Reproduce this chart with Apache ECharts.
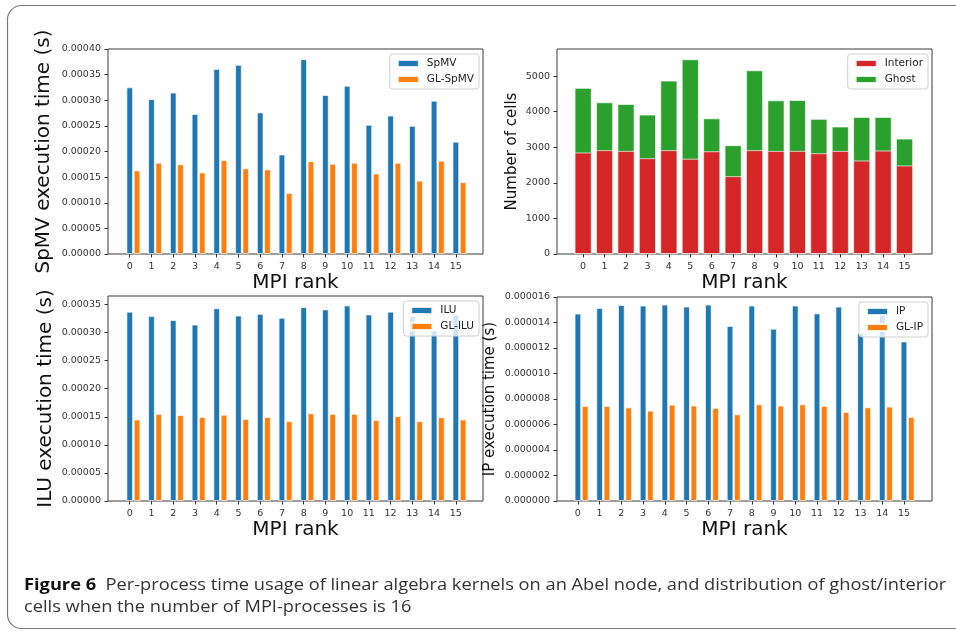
<!DOCTYPE html>
<html>
<head>
<meta charset="utf-8">
<script src="https://cdn.jsdelivr.net/npm/echarts@6/dist/echarts.min.js"></script>
<style>
  html, body { margin: 0; padding: 0; background: #fff; }
  #chart { width: 956px; height: 632px; }
</style>
</head>
<body>
<div id="chart"></div>
<script>
// MPI ranks
const ranks = [0, 1, 2, 3, 4, 5, 6, 7, 8, 9, 10, 11, 12, 13, 14, 15];

// top left: SpMV (s)
const spmv = [0.000325, 0.000302, 0.000315, 0.000273, 0.000361, 0.000369, 0.000276, 0.000194,
  0.000380, 0.000310, 0.000328, 0.000252, 0.000270, 0.000250, 0.000299, 0.000219];
const glSpmv = [0.000163, 0.000178, 0.000175, 0.000159, 0.000183, 0.000167, 0.000165, 0.000119,
  0.000181, 0.000176, 0.000178, 0.000157, 0.000178, 0.000143, 0.000182, 0.000140];
const spmvTicks = [0, 0.00005, 0.0001, 0.00015, 0.0002, 0.00025, 0.0003, 0.00035, 0.0004];

// top right: cells per rank
const interior = [2850, 2915, 2895, 2690, 2915, 2675, 2885, 2185, 2915, 2895, 2895, 2830, 2895, 2625, 2905, 2485];
const ghost = [1815, 1345, 1320, 1225, 1955, 2795, 925, 870, 2245, 1420, 1430, 965, 685, 1225, 945, 755];
const cellTicks = [0, 1000, 2000, 3000, 4000, 5000];

// bottom left: ILU (s)
const ilu = [0.000337, 0.000329, 0.000322, 0.000314, 0.000343, 0.000330, 0.000333, 0.000326,
  0.000345, 0.000341, 0.000348, 0.000332, 0.000337, 0.000329, 0.000304, 0.000332];
const glIlu = [0.000145, 0.000155, 0.000153, 0.0001495, 0.0001535, 0.000146, 0.0001495, 0.000142,
  0.000156, 0.000155, 0.000155, 0.000144, 0.000151, 0.000142, 0.000149, 0.000145];
const iluTicks = [0, 0.00005, 0.0001, 0.00015, 0.0002, 0.00025, 0.0003, 0.00035];

// bottom right: IP (s)
const ip = [0.00001469, 0.00001513, 0.00001537, 0.00001532, 0.0000154, 0.00001524, 0.0000154, 0.00001372,
  0.00001532, 0.00001351, 0.00001532, 0.00001471, 0.00001524, 0.00001317, 0.0000149, 0.00001251];
const glIp = [0.00000745, 0.00000745, 0.00000734, 0.00000708, 0.00000755, 0.00000748, 0.00000729, 0.00000679,
  0.00000758, 0.00000748, 0.00000758, 0.00000745, 0.00000698, 0.00000734, 0.0000074, 0.00000658];
const ipTicks = [0, 0.000002, 0.000004, 0.000006, 0.000008, 0.00001, 0.000012, 0.000014, 0.000016];

const BLUE = '#1f77b4';
const ORANGE = '#ff7f0e';
const RED = '#d62728';
const GREEN = '#2ca02c';
const FONT = 'DejaVu Sans';
const SHIFT = 0.168; // blue bar sits on the tick, orange next to it

const pairs = (vals, shift) => ranks.map((r, i) => [r + shift, vals[i]]);
// ghost is stacked on interior: draw the total in green, interior in red over it
const totals = interior.map((v, i) => v + ghost[i]);

const xAxisOf = (idx, min, max) => ({
  type: 'value', gridIndex: idx, min: min, max: max,
  name: 'MPI rank', nameLocation: 'middle', nameGap: 18,
  nameTextStyle: { fontFamily: FONT, fontSize: 20, color: '#111' },
  axisLine: { show: false, onZero: false },
  splitLine: { show: false },
  axisTick: { show: true, length: 3.5, customValues: ranks, lineStyle: { color: '#333' } },
  axisLabel: { customValues: ranks, margin: 8, fontFamily: FONT, fontSize: 9.5, color: '#333' },
});

const yAxisOf = (idx, max, ticks, name, nameSize, nameGap, digits) => ({
  type: 'value', gridIndex: idx, min: 0, max: max,
  name: name, nameLocation: 'middle', nameGap: nameGap,
  nameTextStyle: { fontFamily: FONT, fontSize: nameSize, color: '#111' },
  axisLine: { show: false, onZero: false },
  splitLine: { show: false },
  axisTick: { show: true, length: 3.5, customValues: ticks, lineStyle: { color: '#333' } },
  axisLabel: {
    customValues: ticks, margin: 7, fontFamily: FONT, fontSize: 9.5, color: '#333',
    formatter: v => v.toFixed(digits),
  },
});

const legendOf = (names, right, top) => ({
  data: names, right: right, top: top, orient: 'vertical',
  icon: 'rect', itemWidth: 21, itemHeight: 7, itemGap: 5,
  padding: [4, 5, 4, 7],
  backgroundColor: 'rgba(255,255,255,0.8)', borderColor: '#d0d0d0', borderWidth: 1, borderRadius: 3,
  selectedMode: false,
  textStyle: { fontFamily: FONT, fontSize: 10.5, color: '#222', padding: [0, 0, 0, 3] },
});

const barOf = (name, idx, data, color, width, gap) => ({
  type: 'bar', name: name, xAxisIndex: idx, yAxisIndex: idx, data: data,
  barWidth: width, barGap: gap,
  itemStyle: { color: color, borderColor: 'rgba(255,255,255,0.85)', borderWidth: 0.8 },
});

const gridStyle = { show: true, borderColor: '#3a3a3a', borderWidth: 1, backgroundColor: 'transparent' };

const chart = echarts.init(document.getElementById('chart'), null, { renderer: 'canvas' });
chart.setOption({
  animation: false,
  backgroundColor: '#fff',
  grid: [
    Object.assign({ left: 108, top: 49, width: 375, height: 205 }, gridStyle),
    Object.assign({ left: 557, top: 49, width: 375, height: 205 }, gridStyle),
    Object.assign({ left: 108, top: 296, width: 375, height: 205 }, gridStyle),
    Object.assign({ left: 557, top: 297, width: 375, height: 204 }, gridStyle),
  ],
  xAxis: [
    xAxisOf(0, -1.0, 16.25),
    xAxisOf(1, -1.22, 16.28),
    xAxisOf(2, -1.0, 16.25),
    xAxisOf(3, -0.96, 16.29),
  ],
  yAxis: [
    yAxisOf(0, 0.0004, spmvTicks, 'SpMV execution time (s)', 20, 54, 5),
    yAxisOf(1, 5760, cellTicks, 'Number of cells', 15, 37, 0),
    yAxisOf(2, 0.000365, iluTicks, 'ILU execution time (s)', 20, 52, 5),
    yAxisOf(3, 0.000016, ipTicks, 'IP execution time (s)', 15, 59, 6),
  ],
  legend: [
    legendOf(['SpMV', 'GL-SpMV'], 477, 54),
    legendOf(['Interior', 'Ghost'], 28, 54),
    legendOf(['ILU', 'GL-ILU'], 477, 301),
    legendOf(['IP', 'GL-IP'], 28, 302),
  ],
  series: [
    barOf('SpMV', 0, pairs(spmv, SHIFT), BLUE, 6.5, '12%'),
    barOf('GL-SpMV', 0, pairs(glSpmv, SHIFT), ORANGE, 6.5, '12%'),
    barOf('Ghost', 1, pairs(totals, 0), GREEN, 17, '-100%'),
    barOf('Interior', 1, pairs(interior, 0), RED, 17, '-100%'),
    barOf('ILU', 2, pairs(ilu, SHIFT), BLUE, 6.5, '12%'),
    barOf('GL-ILU', 2, pairs(glIlu, SHIFT), ORANGE, 6.5, '12%'),
    barOf('IP', 3, pairs(ip, SHIFT), BLUE, 6.5, '12%'),
    barOf('GL-IP', 3, pairs(glIp, SHIFT), ORANGE, 6.5, '12%'),
  ],
  graphic: [
    {
      type: 'rect', silent: true,
      shape: { x: 7.5, y: 5.5, width: 990, height: 623, r: 14 },
      style: { fill: 'none', stroke: '#7a7a7a', lineWidth: 1.2 },
    },
    {
      type: 'text', x: 24, y: 577, scaleX: 1.14, silent: true,
      style: {
        text: '{b|Figure 6}  Per-process time usage of linear algebra kernels on an Abel node, and distribution of ghost/interior',
        fontFamily: 'Open Sans', fontSize: 16, fill: '#333', verticalAlign: 'top',
        rich: { b: { fontFamily: 'Open Sans', fontSize: 16, fontWeight: 'bold', fill: '#111' } },
      },
    },
    {
      type: 'text', x: 24, y: 599, scaleX: 1.14, silent: true,
      style: {
        text: 'cells when the number of MPI-processes is 16',
        fontFamily: 'Open Sans', fontSize: 16, fill: '#333', verticalAlign: 'top',
      },
    },
  ],
});
</script>
</body>
</html>
